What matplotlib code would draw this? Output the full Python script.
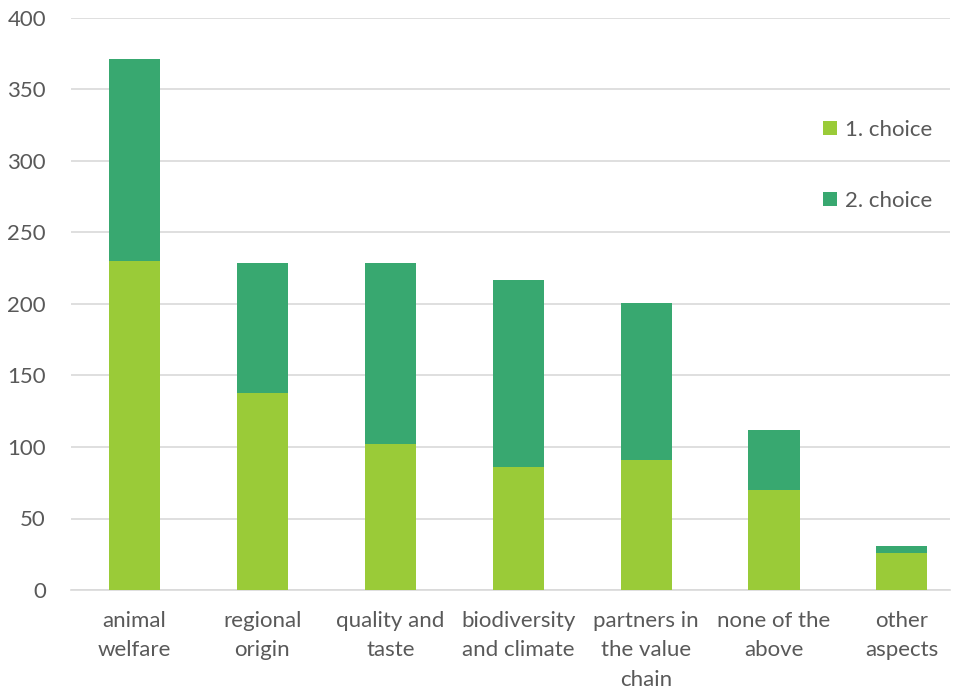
import matplotlib
matplotlib.use("Agg")
import matplotlib.pyplot as plt
import numpy as np

categories = ["animal\nwelfare", "regional\norigin", "quality and\ntaste", "biodiversity\nand climate",
              "partners in\nthe value\nchain", "none of the\nabove", "other\naspects"]
first_choice = [230, 138, 102, 86, 91, 70, 26]
second_choice = [141, 91, 127, 131, 110, 42, 5]
series_labels = ["1. choice", "2. choice"]
yticks = [0, 50, 100, 150, 200, 250, 300, 350, 400]

plt.rcParams['font.family'] = ['Lato', 'DejaVu Sans']
text_color = "#595959"

fig = plt.figure(figsize=(9.55, 6.91), dpi=100)
ax = fig.add_axes([71/955, 101/691, 879/955, 572/691])

x = np.arange(len(categories))
w = 0.40
c1 = "#9ACB38"
c2 = "#38A870"
ax.bar(x, first_choice, w, color=c1, label=series_labels[0], zorder=3)
ax.bar(x, second_choice, w, bottom=first_choice, color=c2, label=series_labels[1], zorder=3)

ax.set_xlim(-0.4965, 6.376)
ax.set_ylim(0, 400)
ax.set_yticks(yticks)
ax.yaxis.grid(True, color="#D9D9D9", linewidth=1.2, zorder=0)
for s in ["top", "right", "left"]:
    ax.spines[s].set_visible(False)
ax.spines["bottom"].set_color("#D9D9D9")
ax.spines["bottom"].set_linewidth(1.2)
ax.tick_params(axis="both", length=0, labelsize=16, colors=text_color)
ax.tick_params(axis="x", pad=15)
ax.tick_params(axis="y", pad=18)
ax.set_xticks(x)
ax.set_xticklabels(categories, linespacing=1.6, va="top")
for lbl in ax.get_xticklabels():
    lbl.set_color(text_color)

leg = ax.legend(loc="upper left", bbox_to_anchor=(0.833, 0.857), frameon=False, fontsize=16,
                labelspacing=2.3, handlelength=0.6, handleheight=0.6, handletextpad=0.4)
for t in leg.get_texts():
    t.set_color(text_color)

fig.savefig("out.png", dpi=100)
